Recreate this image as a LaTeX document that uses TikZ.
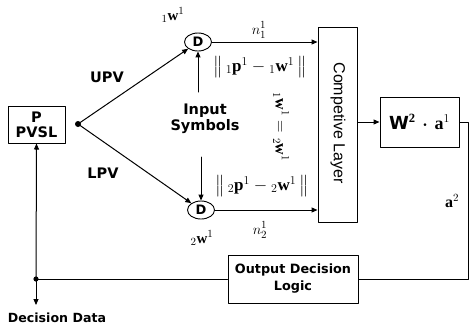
\documentclass[tikz,border=0pt]{standalone}
\usepackage{amsmath,amssymb}
\usepackage{fontspec}
\setmainfont{Liberation Serif}
\setsansfont{DejaVu Sans}
\newfontfamily\narrowsans{Liberation Sans}
\usetikzlibrary{calc,positioning,arrows.meta,shapes.geometric}

\begin{document}
\begin{tikzpicture}[
		x=1pt,
		y=-1pt,
		line cap=round,
		line join=round,
		>={Triangle[length=6pt,width=5pt]},
		box/.style={draw, line width=1pt, inner sep=0pt, align=center},
		dnode/.style={draw, ellipse, line width=0.9pt, minimum width=27pt, minimum height=18pt,
			inner sep=0pt, font=\sffamily\bfseries\fontsize{13}{14}\selectfont},
		lbl/.style={font=\sffamily\bfseries\fontsize{13.5}{16}\selectfont, align=center, inner sep=0pt},
		mlbl/.style={font=\bfseries\fontsize{15}{16}\selectfont, inner sep=0pt},
		wire/.style={line width=1pt}
		]
		
		\useasboundingbox (0,0) rectangle (470,327);
		
		%------------------------------------------------------------------
		% Blocks
		%------------------------------------------------------------------
		\node[box, lbl, font=\sffamily\bfseries\fontsize{14.5}{16}\selectfont,
		minimum width=57pt, minimum height=37pt] (pvsl) at (36.5,124.5) {P\\[-1pt]PVSL};
		
		\node[dnode] (d1) at (198,42)  {D};
		\node[dnode] (d2) at (201,210) {D};
		
		\node[box, minimum width=39pt, minimum height=195pt] (comp) at (337.5,124.5) {};
		\node[rotate=-90, font=\narrowsans\fontsize{16}{17}\selectfont] (complbl) at (338,123) {Competive Layer};
		
		\node[box, minimum width=79pt, minimum height=50pt, font=\fontsize{18}{20}\selectfont] (wa) at (419.5,122)
		{{\sffamily\bfseries W}$^{\mathbf{2}}\,\boldsymbol{\cdot}\,\mathbf{a}^{1}$};
		
		\node[box, lbl, font=\sffamily\bfseries\fontsize{12.8}{15}\selectfont,
		minimum width=130pt, minimum height=48pt] (odl) at (293,279) {Output Decision\\[2pt]Logic};
		
		%------------------------------------------------------------------
		% Coordinates
		%------------------------------------------------------------------
		\coordinate (jn)    at ( 78,124);
		\coordinate (fb)    at ( 36,279);
		\coordinate (dd)    at ( 36,305);
		\coordinate (insUp) at (198, 92);
		\coordinate (insDn) at (201,157);
		
		\fill (jn) circle (3pt);
		\fill (fb) circle (2.6pt);
		
		%------------------------------------------------------------------
		% Connectors
		%------------------------------------------------------------------
		\draw[wire,->] (jn) -- (d1);
		\draw[wire,->] (jn) -- (d2);
		
		\draw[wire,->] (insUp) -- (d1.south);
		\draw[wire,->] (insDn) -- (d2.north);
		
		\draw[wire,->] (d1.east) -- (d1.east -| comp.west);
		\draw[wire,->] (d2.east) -- (d2.east -| comp.west);
		
		\draw[wire,->] (comp.east |- wa.west) -- (wa.west);
		\draw[wire] (wa.east) -- ++(9,0) |- (odl.east);
		
		\draw[wire] (odl.west) -- (fb);
		\draw[wire,->] (fb) -- (pvsl.south);
		\draw[wire,->] (fb) -- (dd);
		
		%------------------------------------------------------------------
		% Labels
		%------------------------------------------------------------------
		\node[lbl, font=\sffamily\bfseries\fontsize{14.5}{16}\selectfont] (upv) at (107, 77) {UPV};
		\node[lbl, font=\sffamily\bfseries\fontsize{14.5}{16}\selectfont] (lpv) at (103,173) {LPV};
		\node[lbl, font=\sffamily\bfseries\fontsize{14.5}{16}\selectfont] (ins) at (205,119) {Input\\Symbols};
		\node[lbl, font=\sffamily\bfseries\fontsize{12.6}{15}\selectfont] (dec) at ( 57,318) {Decision Data};
		
		\node[mlbl] (w1) at (173, 15) {${}_{1}\mathbf{w}^{1}$};
		\node[mlbl] (w2) at (202,238) {${}_{2}\mathbf{w}^{1}$};
		
		\node[mlbl] (n1) at (259, 30) {$n^{1}_{1}$};
		\node[mlbl] (n2) at (260,230) {$n^{1}_{2}$};
		
		\node[mlbl, font=\bfseries\fontsize{17}{18}\selectfont] (dist1) at (260, 67)
		{$\bigl\|\,{}_{1}\mathbf{p}^{1}-{}_{1}\mathbf{w}^{1}\,\bigr\|$};
		\node[mlbl, font=\bfseries\fontsize{17}{18}\selectfont] (dist2) at (262,186)
		{$\bigl\|\,{}_{2}\mathbf{p}^{1}-{}_{2}\mathbf{w}^{1}\,\bigr\|$};
		
		\node[mlbl, rotate=-90, font=\bfseries\fontsize{16}{17}\selectfont] (weq) at (281,127)
		{${}_{1}\mathbf{w}^{1}={}_{2}\mathbf{w}^{1}$};
		
		\node[mlbl, font=\bfseries\fontsize{16}{17}\selectfont] (a2) at (452,201) {$\mathbf{a}^{2}$};
		
	\end{tikzpicture}
\end{document}
